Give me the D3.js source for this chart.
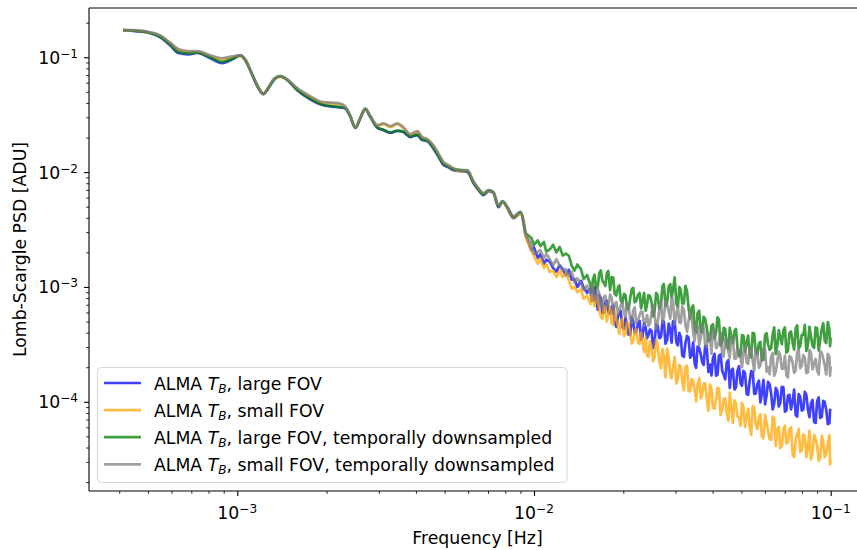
<!DOCTYPE html>
<html><head><meta charset="utf-8">
<script src="https://cdn.jsdelivr.net/npm/d3@7"></script>
<style>body{margin:0;background:#fff} svg{display:block} text{font-family:"DejaVu Sans",sans-serif;fill:#000}</style>
</head><body><svg id="c" width="857" height="550"></svg>
<script>
// ---- data ----
const freq = [4.12e-4,4.53e-4,5.09e-4,5.50e-4,5.94e-4,6.32e-4,6.84e-4,7.33e-4,8.11e-4,8.90e-4,
9.62e-4,1.023e-3,1.064e-3,1.124e-3,1.178e-3,1.224e-3,1.273e-3,1.333e-3,1.397e-3,1.475e-3,
1.593e-3,1.762e-3,1.950e-3,2.19e-3,2.31e-3,2.40e-3,2.50e-3,2.60e-3,2.70e-3,2.81e-3,
2.97e-3,3.11e-3,3.28e-3,3.46e-3,3.63e-3,3.83e-3,4.04e-3,4.20e-3,4.37e-3,4.55e-3,
4.73e-3,4.96e-3,5.15e-3,5.36e-3,5.66e-3,5.97e-3,6.25e-3,6.50e-3,6.76e-3,7.03e-3,
7.30e-3,7.59e-3,7.83e-3,8.14e-3,8.53e-3,9.00e-3,9.36e-3,
0.0098,0.0100,0.0103,0.0105,0.0108,0.0110,0.0113,0.0116,0.0119,0.0122,
0.0125,0.0128,0.0131,0.0134,0.0137,0.0140,0.0144,0.0147,0.0151,0.0155,
0.0158,0.0162,0.0166,0.0170,0.0174,0.0178,0.0183,0.0187,0.0192,0.0196,
0.0201,0.0206,0.0211,0.0216,0.0221,0.0227,0.0232,0.0238,0.0243,0.0249,
0.0255,0.0261,0.0268,0.0274,0.0281,0.0288,0.0294,0.0302,0.0309,0.0316,
0.0324,0.0332,0.0340,0.0348,0.0356,0.0365,0.0373,0.0382,0.0392,0.0401,
0.0411,0.0420,0.0431,0.0441,0.0452,0.0462,0.0474,0.0485,0.0497,0.0508,
0.0521,0.0533,0.0546,0.0559,0.0573,0.0586,0.0601,0.0615,0.0630,0.0645,
0.0661,0.0676,0.0693,0.0709,0.0726,0.0744,0.0762,0.0780,0.0799,0.0818,
0.0838,0.0858,0.0879,0.0900,0.0922,0.0944,0.0966,0.0990,0.1000];

// extra frequencies between the points above (high-frequency part)
const freqMid = [0.01565,0.0160,0.0164,0.0168,0.0172,0.0176,0.01805,0.0185,0.01895,0.0194,
0.01985,0.02035,0.02085,0.02135,0.02185,0.0224,0.02295,0.0235,0.02405,0.0246,
0.0252,0.0258,0.02645,0.0271,0.02775,0.02845,0.0291,0.0298,0.03055,0.03125,
0.0320,0.0328,0.0336,0.0344,0.0352,0.03605,0.0369,0.03775,0.0387,0.03965,
0.0406,0.04155,0.04255,0.0436,0.04465,0.0457,0.0468,0.04795,0.0491,0.05025,
0.05145,0.0527,0.05395,0.05525,0.0566,0.05795,0.05935,0.0608,0.06225,0.06375,
0.0653,0.06685,0.06845,0.0701,0.07175,0.0735,0.0753,0.0771,0.07895,0.08085,
0.0828,0.0848,0.08685,0.08895,0.0911,0.0933,0.0955,0.0978,0.0995];

const psdLargeFov = [0.172,0.169,0.162,0.149,0.127,0.109,0.106,0.109,0.098,0.089,
0.096,0.104,0.094,0.0697,0.0538,0.0476,0.0538,0.0643,0.0683,0.0631,
0.0516,0.0431,0.0382,0.0367,0.0359,0.0307,0.0242,0.0295,0.0353,0.0301,
0.0242,0.0232,0.0219,0.0228,0.0223,0.0202,0.0210,0.0190,0.0186,0.0165,
0.0141,0.0115,0.0110,0.0104,0.0102,0.0100,0.00802,0.00697,0.00631,0.00683,
0.00657,0.00495,0.00547,0.00485,0.00397,0.00440,0.00283,
2.08e-3,2.21e-3,1.79e-3,1.92e-3,1.59e-3,1.73e-3,1.66e-3,1.46e-3,1.36e-3,1.55e-3,
1.43e-3,1.26e-3,1.41e-3,1.16e-3,1.17e-3,1.0e-3,1.13e-3,9.9e-4,8.9e-4,9.7e-4,
7.7e-4,8.2e-4,8.5e-4,5.9e-4,7.4e-4,6.05e-4,6.8e-4,4.96e-4,5.6e-4,6.2e-4,
4.32e-4,4.67e-4,3.82e-4,4.96e-4,4.06e-4,5.06e-4,3.67e-4,4.4e-4,3.82e-4,4.15e-4,
3.33e-4,4.6e-4,3.68e-4,4.98e-4,3.44e-4,4.18e-4,5.02e-4,3.28e-4,3.98e-4,2.53e-4,
3.25e-4,3.59e-4,2.55e-4,2.14e-4,3.03e-4,2.58e-4,2.1e-4,3.06e-4,2.11e-4,2.4e-4,
1.69e-4,2.52e-4,1.85e-4,1.57e-4,2.3e-4,1.87e-4,1.28e-4,1.86e-4,1.44e-4,1.86e-4,
1.17e-4,1.5e-4,1.82e-4,1.18e-4,1.53e-4,1.18e-4,9.5e-5,1.49e-4,1.18e-4,9.6e-5,
1.24e-4,9.8e-5,1.34e-4,8.4e-5,1.15e-4,1.0e-4,7.7e-5,1.17e-4,8.4e-5,1.22e-4,
8.55e-5,9.7e-5,6.7e-5,1.01e-4,7.25e-5,1.02e-4,8.5e-5,6.5e-5,8.7e-5];
const psdLargeFovMid = [7.6e-4,9.9e-4,6.35e-4,7.95e-4,6.0e-4,7.6e-4,5.85e-4,6.85e-4,4.5e-4,5.85e-4,
4.45e-4,5.37e-4,3.86e-4,5.45e-4,4.0e-4,4.72e-4,3.5e-4,4.82e-4,3.57e-4,4.27e-4,
2.94e-4,4.7e-4,3.59e-4,5.06e-4,3.21e-4,4.8e-4,3.27e-4,5.0e-4,3.1e-4,3.66e-4,
2.46e-4,3.76e-4,2.42e-4,3.3e-4,1.98e-4,2.94e-4,2.2e-4,3.05e-4,1.82e-4,1.7e-4,
2.62e-4,1.72e-4,2.58e-4,1.73e-4,2.22e-4,1.32e-4,1.94e-4,1.34e-4,2.04e-4,1.38e-4,
1.77e-4,1.15e-4,1.85e-4,1.17e-4,1.43e-4,9.9e-5,1.55e-4,1.13e-4,1.42e-4,8.6e-5,
1.32e-4,9.1e-5,1.35e-4,8.2e-5,1.13e-4,8.6e-5,1.28e-4,7.45e-5,1.1e-4,8.55e-5,
1.15e-4,7.35e-5,1.04e-4,6.55e-5,1.09e-4,7.4e-5,9.9e-5,6.4e-5,8.45e-5];

const psdSmallFov = [0.171,0.170,0.163,0.153,0.132,0.116,0.111,0.111,0.102,0.096,
0.100,0.102,0.094,0.0700,0.0543,0.0480,0.0543,0.0648,0.0673,0.0633,
0.0530,0.0451,0.0400,0.0392,0.0369,0.0309,0.0243,0.0297,0.0354,0.0303,
0.0252,0.0262,0.0247,0.0262,0.0242,0.0211,0.0224,0.0199,0.0191,0.0172,
0.0148,0.0120,0.0113,0.0106,0.0102,0.0102,0.00820,0.00712,0.00645,0.00685,
0.00658,0.00505,0.00545,0.00480,0.00400,0.00430,0.00275,
2.08e-3,1.86e-3,1.59e-3,1.77e-3,1.46e-3,1.59e-3,1.35e-3,1.39e-3,1.22e-3,1.38e-3,
1.22e-3,1.32e-3,1.15e-3,9.7e-4,1.0e-3,9.0e-4,9.5e-4,7.9e-4,8.4e-4,7.1e-4,
7.9e-4,8.2e-4,6.2e-4,5.27e-4,6.7e-4,5.85e-4,4.77e-4,6.2e-4,4.5e-4,4.96e-4,
3.75e-4,4.96e-4,3.98e-4,3.39e-4,4.32e-4,3.2e-4,3.39e-4,3.6e-4,2.46e-4,3.06e-4,
2.46e-4,3.2e-4,1.95e-4,2.48e-4,2.89e-4,1.74e-4,1.99e-4,1.44e-4,2.1e-4,1.51e-4,
2.03e-4,1.24e-4,1.58e-4,1.27e-4,1.42e-4,1.07e-4,1.44e-4,1.09e-4,1.41e-4,8.9e-5,
1.05e-4,1.31e-4,8.5e-5,1.07e-4,6.85e-5,9.2e-5,1.03e-4,7.45e-5,6.2e-5,9.0e-5,
7.6e-5,6.1e-5,9.2e-5,6.3e-5,7.25e-5,5.0e-5,7.7e-5,5.65e-5,4.67e-5,7.15e-5,
5.75e-5,3.95e-5,5.75e-5,4.35e-5,5.75e-5,3.5e-5,4.67e-5,5.8e-5,3.75e-5,5.05e-5,
3.9e-5,3.15e-5,5.16e-5,4.2e-5,3.3e-5,4.5e-5,3.55e-5,5.1e-5,3.1e-5];
const psdSmallFovMid = [8.7e-4,6.8e-4,8.25e-4,5.55e-4,6.85e-4,5.0e-4,6.6e-4,4.67e-4,5.2e-4,3.9e-4,
5.27e-4,3.82e-4,4.77e-4,3.23e-4,4.1e-4,3.26e-4,4.0e-4,2.72e-4,2.53e-4,3.36e-4,
2.25e-4,3.46e-4,2.25e-4,2.89e-4,1.63e-4,2.41e-4,1.6e-4,2.46e-4,1.58e-4,2.03e-4,
1.26e-4,2.06e-4,1.24e-4,1.51e-4,1.01e-4,1.61e-4,1.15e-4,1.45e-4,8.35e-5,1.3e-4,
8.7e-5,1.32e-4,7.7e-5,1.06e-4,7.85e-5,1.2e-4,6.55e-5,9.6e-5,7.3e-5,9.8e-5,
6.05e-5,8.7e-5,5.16e-5,8.9e-5,5.8e-5,7.8e-5,4.8e-5,6.55e-5,4.75e-5,7.45e-5,
4.12e-5,6.05e-5,4.12e-5,6.2e-5,4.45e-5,6.0e-5,3.3e-5,5.2e-5,3.67e-5,5.2e-5,
3.3e-5,5.6e-5,3.63e-5,4.7e-5,3.07e-5,5.05e-5,3.3e-5,4.4e-5,2.85e-5];

const psdLargeFovDown = [0.172,0.170,0.163,0.151,0.129,0.111,0.108,0.110,0.100,0.091,
0.097,0.104,0.095,0.0700,0.0540,0.0480,0.0540,0.0645,0.0686,0.0634,
0.0520,0.0434,0.0385,0.0370,0.0362,0.0309,0.0244,0.0297,0.0355,0.0303,
0.0244,0.0234,0.0221,0.0230,0.0225,0.0204,0.0212,0.0192,0.0188,0.0167,
0.0143,0.0117,0.0112,0.0106,0.0104,0.0102,0.00815,0.00708,0.00642,0.00694,
0.00668,0.00505,0.00558,0.00495,0.00405,0.00450,0.00295,
2.67e-3,2.32e-3,2.54e-3,2.27e-3,2.46e-3,2.03e-3,2.12e-3,2.33e-3,2.0e-3,2.23e-3,
1.88e-3,1.95e-3,1.87e-3,1.53e-3,1.39e-3,1.57e-3,1.43e-3,1.17e-3,1.27e-3,1.04e-3,
1.17e-3,9.6e-4,1.32e-3,1.13e-3,1.02e-3,1.38e-3,1.22e-3,8.7e-4,1.0e-3,7.7e-4,
8.7e-4,6.4e-4,8.0e-4,9.8e-4,7.55e-4,8.87e-4,7.4e-4,6.2e-4,8.5e-4,7.4e-4,
6.2e-4,8.4e-4,7.1e-4,1.06e-3,7.3e-4,1.06e-3,9.4e-4,7.1e-4,1.0e-3,7.2e-4,
1.02e-3,6.5e-4,6.6e-4,4.35e-4,5.95e-4,4.06e-4,5.5e-4,4.45e-4,3.47e-4,4.73e-4,
4.03e-4,5.22e-4,3.3e-4,4.32e-4,2.88e-4,3.76e-4,4.13e-4,2.98e-4,2.53e-4,3.78e-4,
3.3e-4,2.67e-4,3.98e-4,2.7e-4,3.24e-4,2.31e-4,3.83e-4,3.17e-4,2.94e-4,4.45e-4,
3.09e-4,3.66e-4,4.2e-4,2.68e-4,3.98e-4,3.27e-4,4.35e-4,2.9e-4,3.83e-4,4.67e-4,
3.13e-4,3.7e-4,2.95e-4,4.37e-4,3.45e-4,4.85e-4,3.24e-4,4.28e-4,3.62e-4];
const psdLargeFovDownMid = [9.0e-4,1.28e-3,1.0e-3,1.39e-3,1.08e-3,1.32e-3,9.4e-4,1.21e-3,8.4e-4,1.03e-3,
7.25e-4,8.5e-4,6.5e-4,9.6e-4,7.35e-4,8.5e-4,6.5e-4,8.9e-4,7.05e-4,8.35e-4,
5.55e-4,8.9e-4,6.45e-4,1.02e-3,6.8e-4,1.01e-3,8.1e-4,1.21e-3,6.7e-4,9.4e-4,
7.2e-4,9.2e-4,5.3e-4,6.9e-4,4.0e-4,6.2e-4,4.05e-4,5.25e-4,3.37e-4,4.6e-4,
3.56e-4,5.45e-4,3.08e-4,4.4e-4,3.03e-4,4.4e-4,3.24e-4,4.32e-4,2.48e-4,3.81e-4,
2.74e-4,3.77e-4,2.43e-4,3.93e-4,2.6e-4,3.32e-4,2.32e-4,3.95e-4,2.83e-4,3.87e-4,
2.61e-4,4.2e-4,3.18e-4,4.45e-4,2.77e-4,4.1e-4,2.84e-4,4.62e-4,3.07e-4,3.83e-4,
2.77e-4,4.5e-4,3.08e-4,4.45e-4,2.8e-4,4.32e-4,3.38e-4,4.95e-4,3.05e-4];

const psdSmallFovDown = [0.172,0.172,0.165,0.155,0.134,0.118,0.113,0.113,0.104,0.098,
0.102,0.104,0.096,0.071,0.055,0.0486,0.055,0.0656,0.0683,0.0643,
0.0538,0.0458,0.0406,0.0398,0.0375,0.0313,0.0246,0.0301,0.0359,0.0307,
0.0256,0.0266,0.0251,0.0266,0.0246,0.0214,0.0228,0.0202,0.0194,0.0175,
0.0150,0.0122,0.0115,0.0108,0.0104,0.0104,0.00834,0.00725,0.00657,0.00697,
0.00670,0.00516,0.00557,0.00495,0.00414,0.00448,0.00295,
2.34e-3,1.94e-3,2.01e-3,2.10e-3,1.79e-3,1.94e-3,1.75e-3,1.54e-3,1.75e-3,1.54e-3,
1.38e-3,1.43e-3,1.26e-3,1.36e-3,1.09e-3,1.19e-3,1.06e-3,9.4e-4,1.03e-3,8.7e-4,
1.04e-3,8.0e-4,8.65e-4,6.7e-4,8.4e-4,6.8e-4,8.0e-4,7.1e-4,5.85e-4,6.9e-4,
6.05e-4,7.15e-4,5.3e-4,6.25e-4,4.85e-4,5.7e-4,6.1e-4,5.0e-4,4.57e-4,5.95e-4,
5.7e-4,4.82e-4,7.4e-4,5.5e-4,7.0e-4,5.3e-4,7.75e-4,5.8e-4,4.9e-4,6.8e-4,
4.65e-4,5.1e-4,5.5e-4,3.4e-4,4.6e-4,3.63e-4,4.5e-4,3.0e-4,3.74e-4,4.4e-4,
2.93e-4,3.35e-4,2.54e-4,3.5e-4,2.72e-4,3.58e-4,2.37e-4,2.97e-4,2.43e-4,2.7e-4,
2.2e-4,2.88e-4,2.28e-4,2.92e-4,1.98e-4,2.38e-4,2.87e-4,2.0e-4,2.48e-4,1.69e-4,
2.25e-4,2.52e-4,1.94e-4,1.7e-4,2.5e-4,2.2e-4,1.88e-4,2.83e-4,2.07e-4,2.43e-4,
1.81e-4,2.68e-4,2.13e-4,1.87e-4,2.76e-4,2.36e-4,1.73e-4,2.48e-4,2.02e-4];
const psdSmallFovDownMid = [9.9e-4,7.65e-4,9.55e-4,6.95e-4,8.25e-4,6.8e-4,8.6e-4,5.8e-4,7.4e-4,6.2e-4,
7.3e-4,5.4e-4,6.7e-4,4.85e-4,6.65e-4,5.1e-4,6.1e-4,4.65e-4,5.7e-4,4.82e-4,
6.97e-4,4.3e-4,6.35e-4,4.85e-4,7.55e-4,6.1e-4,8.1e-4,4.72e-4,6.8e-4,4.85e-4,
6.3e-4,4.07e-4,6.1e-4,4.0e-4,4.77e-4,3.12e-4,4.6e-4,3.12e-4,3.92e-4,2.63e-4,
4.03e-4,3.05e-4,4.03e-4,2.48e-4,3.48e-4,2.4e-4,3.63e-4,2.38e-4,2.82e-4,2.0e-4,
3.09e-4,2.14e-4,2.94e-4,1.85e-4,2.66e-4,2.09e-4,2.9e-4,1.83e-4,1.74e-4,2.66e-4,
1.83e-4,2.74e-4,1.94e-4,2.52e-4,1.63e-4,2.44e-4,1.79e-4,2.72e-4,1.96e-4,2.55e-4,
1.78e-4,2.83e-4,1.92e-4,2.36e-4,1.73e-4,2.69e-4,2.07e-4,2.61e-4,1.69e-4];

const seriesLabels = ["large FOV", "small FOV", "large FOV, temporally downsampled", "small FOV, temporally downsampled"];
const seriesColors = ["#0000ff", "#ffa500", "#008000", "#808080"];
const xTickExponents = [-3, -2, -1];
const yTickExponents = [-4, -3, -2, -1];
const xLabel = "Frequency [Hz]";
const yLabel = "Lomb-Scargle PSD [ADU]";

// ---- drawing ----
const svg = d3.select("#c");
svg.append("rect").attr("width",857).attr("height",550).attr("fill","#fff");
const L = 89, R = 866, T = 8, B = 491;
const x = d3.scaleLog().domain([Math.pow(10,-3.4998), Math.pow(10,-0.881)]).range([L, R]);
const y = d3.scaleLog().domain([Math.pow(10,-4.7765), Math.pow(10,-0.5713)]).range([B, T]);

svg.append("defs").append("clipPath").attr("id","clip")
  .append("rect").attr("x",L).attr("y",T).attr("width",R-L).attr("height",B-T);

const allSeries = [
  [psdLargeFov, psdLargeFovMid],
  [psdSmallFov, psdSmallFovMid],
  [psdLargeFovDown, psdLargeFovDownMid],
  [psdSmallFovDown, psdSmallFovDownMid]
];
// smooth low-frequency part, straight segments through the noisy high-frequency part
const SMOOTH_END = 0.0095;
const smoothLine = d3.line().curve(d3.curveMonotoneX).x(d => x(d[0])).y(d => y(d[1]));
const sharpLine = d3.line().x(d => x(d[0])).y(d => y(d[1]));
const gLines = svg.append("g").attr("clip-path","url(#clip)");
allSeries.forEach(([vals, mids], i) => {
  const pts = freq.map((f, j) => [f, vals[j]])
    .concat(freqMid.map((f, k) => [f, mids[k]]))
    .sort((a, b) => a[0] - b[0]);
  const low = pts.filter(p => p[0] <= SMOOTH_END);
  const high = [low[low.length - 1]].concat(pts.filter(p => p[0] > SMOOTH_END));
  const d = smoothLine(low) + sharpLine(high).replace(/^M/, "L");
  gLines.append("path")
    .attr("d", d)
    .attr("fill","none")
    .attr("stroke", seriesColors[i])
    .attr("stroke-opacity", 0.75)
    .attr("stroke-width", 2.7)
    .attr("stroke-linejoin","round");
});

// ticks
function minorTicks(scale){
  const [a,b] = scale.domain();
  const out = [];
  for (let e = Math.floor(Math.log10(a)); e <= Math.ceil(Math.log10(b)); e++)
    for (let m = 2; m <= 9; m++) { const v = m*Math.pow(10,e); if (v>=a && v<=b) out.push(v); }
  return out;
}
const xMajor = xTickExponents.map(e => Math.pow(10,e));
const yMajor = yTickExponents.map(e => Math.pow(10,e));

function styleAxis(g, w){ g.select(".domain").remove(); g.selectAll("line").attr("stroke","#000").attr("stroke-width",w); g.selectAll("text").remove(); }

svg.append("g").attr("transform",`translate(0,${B})`)
  .call(d3.axisBottom(x).tickValues(xMajor).tickSize(4.9).tickFormat(()=>"")).call(g=>styleAxis(g,1.1));
svg.append("g").attr("transform",`translate(0,${B})`)
  .call(d3.axisBottom(x).tickValues(minorTicks(x)).tickSize(2.8).tickFormat(()=>"")).call(g=>styleAxis(g,0.85));
svg.append("g").attr("transform",`translate(${L},0)`)
  .call(d3.axisLeft(y).tickValues(yMajor).tickSize(4.9).tickFormat(()=>"")).call(g=>styleAxis(g,1.1));
svg.append("g").attr("transform",`translate(${L},0)`)
  .call(d3.axisLeft(y).tickValues(minorTicks(y)).tickSize(2.8).tickFormat(()=>"")).call(g=>styleAxis(g,0.85));

const FS = 17.3;
function powLabel(sel, e){
  sel.append("tspan").text("10");
  sel.append("tspan").attr("dy",-6).attr("font-size",FS*0.7).text("\u2212" + Math.abs(e));
}
xTickExponents.forEach(e => {
  const t = svg.append("text").attr("x", x(Math.pow(10,e))).attr("y", 518.5)
    .attr("text-anchor","middle").attr("font-size",FS);
  powLabel(t, e);
});
yTickExponents.forEach(e => {
  const t = svg.append("text").attr("x", 78).attr("y", y(Math.pow(10,e)) + 6.5)
    .attr("text-anchor","end").attr("font-size",FS);
  powLabel(t, e);
});

// spines
svg.append("line").attr("x1",L).attr("x2",L).attr("y1",T).attr("y2",B).attr("stroke","#000").attr("stroke-width",1.1);
svg.append("line").attr("x1",L).attr("x2",857).attr("y1",B).attr("y2",B).attr("stroke","#000").attr("stroke-width",1.1);
svg.append("line").attr("x1",L).attr("x2",857).attr("y1",T).attr("y2",T).attr("stroke","#000").attr("stroke-width",1.1);

// axis labels
svg.append("text").attr("x",(L+R)/2).attr("y",544).attr("text-anchor","middle").attr("font-size",FS).text(xLabel);
svg.append("text").attr("transform",`translate(26,${(T+B)/2}) rotate(-90)`).attr("text-anchor","middle").attr("font-size",FS).text(yLabel);

// legend
const lg = svg.append("g");
lg.append("rect").attr("x",97.5).attr("y",367.5).attr("width",469.5).attr("height",115)
  .attr("rx",4).attr("fill","#fff").attr("fill-opacity",0.8).attr("stroke","#d6d6d6").attr("stroke-width",1);
seriesLabels.forEach((lab, i) => {
  const cy = 383 + 27.1*i;
  lg.append("line").attr("x1",104).attr("x2",141).attr("y1",cy).attr("y2",cy)
    .attr("stroke",seriesColors[i]).attr("stroke-opacity",0.75).attr("stroke-width",2.7);
  const t = lg.append("text").attr("x",154).attr("y",cy+6.5).attr("font-size",FS);
  t.append("tspan").text("ALMA ");
  t.append("tspan").attr("font-style","italic").text("T");
  t.append("tspan").attr("dy",3.6).attr("font-size",FS*0.7).attr("font-style","italic").text("B");
  t.append("tspan").attr("dy",-3.6).text(", " + lab);
});
</script></body></html>
